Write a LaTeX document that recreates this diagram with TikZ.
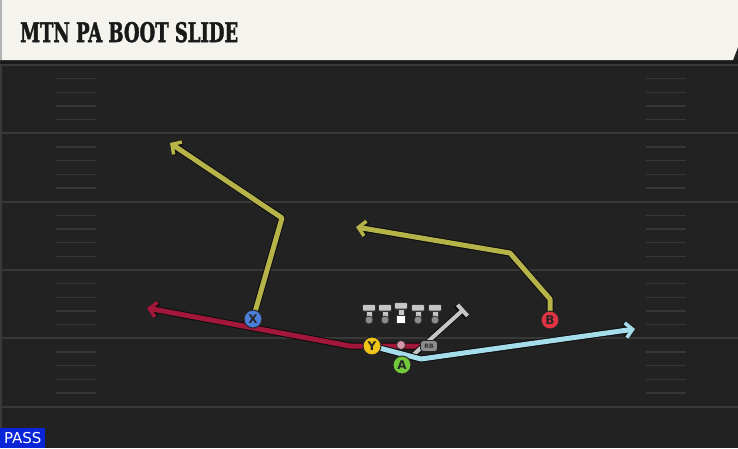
\documentclass[tikz,border=0pt]{standalone}
\usepackage{fontspec}
\setmainfont{DejaVu Sans}
\newfontfamily\titlefont{DejaVu Serif Condensed}[BoldFeatures={FakeBold=2}]
\usetikzlibrary{arrows.meta}
\definecolor{bgc}{HTML}{222222}
\definecolor{yardc}{HTML}{393939}
\definecolor{hashc}{HTML}{373737}
\definecolor{creamc}{HTML}{F5F3EE}
\definecolor{routeY}{HTML}{B6B349}
\definecolor{routeR}{HTML}{A3173A}
\definecolor{routeB}{HTML}{A6DDEB}
\definecolor{routeG}{HTML}{C6C6C6}
\definecolor{plX}{HTML}{4A7ED8}
\definecolor{plY}{HTML}{F0C419}
\definecolor{plA}{HTML}{72C93A}
\definecolor{plB}{HTML}{E03444}
\definecolor{passc}{HTML}{0A24D8}
\tikzset{
  outl/.style={draw=black!95, line width=7pt, line join=round},
  rte/.style={line width=5pt, line join=round},
  barbo/.style={-{Straight Barb[length=7pt,width=15pt,line width=5pt]}},
  barb/.style={-{Straight Barb[length=7pt,width=15pt,line width=3.5pt]}},
  player/.style={circle, minimum size=18pt, inner sep=0pt, draw=black!85, line width=1pt,
    font=\bfseries\fontsize{12}{12}\selectfont, text=black!85},
}
\begin{document}
\begin{tikzpicture}[x=1pt,y=-1pt]
\useasboundingbox (0,0) rectangle (738,448);
\fill[bgc] (0,0) rectangle (738,448);
\fill[yardc] (0,60) rectangle (2,448);
% yard lines
\foreach \k in {0,...,5} {
  \draw[yardc, line width=2pt] (2,65+68.33*\k) -- (738,65+68.33*\k);
}
% hash marks
\foreach \k in {0,...,4} {
  \foreach \j in {1,2,3,4} {
    \draw[hashc, line width=1.5pt] (56,65+68.33*\k+13.67*\j) -- (96,65+68.33*\k+13.67*\j);
    \draw[hashc, line width=1.5pt] (646,65+68.33*\k+13.67*\j) -- (686,65+68.33*\k+13.67*\j);
  }
}
% title bar
\fill[black!90, opacity=0.8] (0,60) rectangle (738,64);
\fill[creamc] (0,0) -- (738,0) -- (738,47) -- (733,60) -- (0,60) -- cycle;
\fill[black!30] (0,0) rectangle (2,60);
\node[anchor=base west, inner sep=0pt, text=black!90] (title) at (20,42)
  {\resizebox{218pt}{20pt}{\titlefont\bfseries MTN PA BOOT SLIDE}};

% coordinates
\coordinate (x1) at (282,218);
\coordinate (xe) at (170,143);
\coordinate (r1) at (350,346);
\coordinate (re) at (147,308);
\coordinate (b1) at (421,359);
\coordinate (be) at (635,329);
\coordinate (g1) at (464,309);
\coordinate (c1) at (550,299);
\coordinate (c2) at (510,253);
\coordinate (ce) at (356,227);
\coordinate (pX) at (253,319);
\coordinate (pY) at (372,346);
\coordinate (pA) at (402,365);
\coordinate (pB) at (550,320);
\coordinate (pRB) at (429,346);

% routes
\draw[outl, barbo] (pRB) -- (r1) -- (re);
\draw[routeR, rte, barb] (pRB) -- (r1) -- (re);
\draw[outl, line width=6pt, -{Bar[width=16pt]}] (pA) -- (g1);
\draw[routeG, line width=4pt, -{Bar[width=15pt]}] (pA) -- (g1);
\draw[outl, barbo] (pY) -- (b1) -- (be);
\draw[routeB, rte, barb] (pY) -- (b1) -- (be);
\draw[outl, barbo] (pX) -- (x1) -- (xe);
\draw[routeY, rte, barb] (pX) -- (x1) -- (xe);
\draw[outl, barbo] (pB) -- (c1) -- (c2) -- (ce);
\draw[routeY, rte, barb] (pB) -- (c1) -- (c2) -- (ce);

% offensive line
\foreach \x in {369,385,418,435} {
  \filldraw[fill=routeG, draw=black!80, line width=0.8pt, rounded corners=1pt]
    (\x-6.5,304.5) rectangle (\x+6.5,311);
  \filldraw[fill=routeG, draw=black!80, line width=0.8pt] (\x-3,311) rectangle (\x+3,318);
  \filldraw[fill=black!45, draw=black!80, line width=0.8pt] (\x,320) circle (4pt);
}
\filldraw[fill=routeG, draw=black!80, line width=0.8pt, rounded corners=1pt] (394.5,302.5) rectangle (407.5,309);
\filldraw[fill=routeG, draw=black!80, line width=0.8pt] (398,309) rectangle (404,315);
\filldraw[fill=white, draw=black!80, line width=0.8pt] (396.5,315) rectangle (405.5,323);

% QB dot and RB
\node[circle, fill=routeR!45!white, draw=black!80, line width=0.8pt, minimum size=9pt, inner sep=0pt] (qb) at (401,345) {};
\node[rounded corners=3pt, fill=black!45, draw=black!85, line width=0.8pt, minimum width=17pt, minimum height=11pt, inner sep=0pt,
  font=\bfseries\fontsize{6}{6}\selectfont, text=black!80] (RB) at (pRB) {RB};

% players
\node[player, fill=plX] (X) at (pX) {X};
\node[player, fill=plY] (Y) at (pY) {Y};
\node[player, fill=plA] (A) at (pA) {A};
\node[player, fill=plB] (B) at (pB) {B};

% pass label
\node[anchor=south west, fill=passc, text=white, inner sep=0pt, minimum width=45pt, minimum height=20pt,
  font=\fontsize{15}{15}\selectfont] (pass) at (0,448) {PASS};
\end{tikzpicture}
\end{document}
